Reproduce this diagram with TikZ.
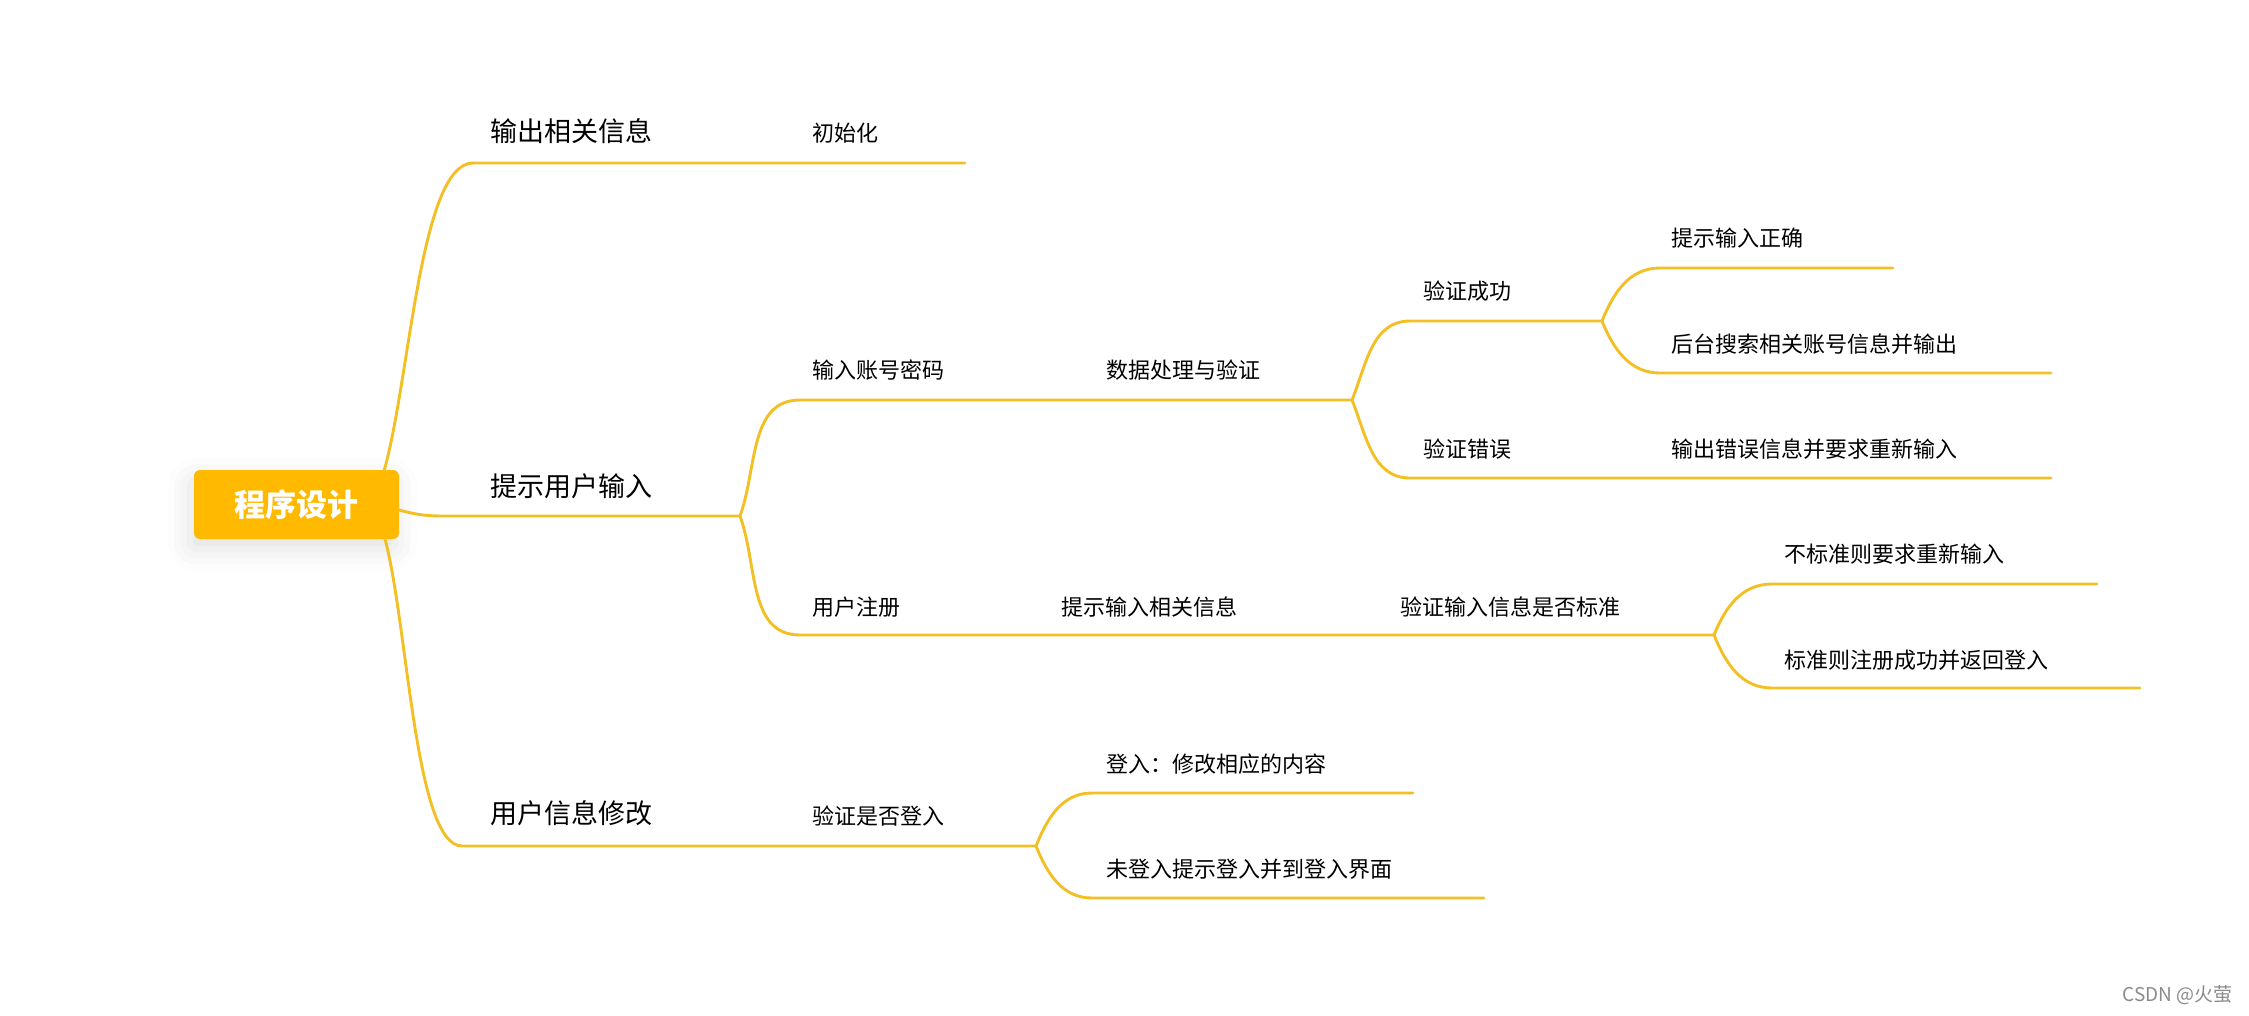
\documentclass[tikz,border=0pt]{standalone}
\usepackage{fontspec}
\setmainfont{Noto Sans CJK SC}
\usetikzlibrary{shadows.blur}
\definecolor{lineyellow}{HTML}{F2C024}
\definecolor{rootyellow}{HTML}{FFBA00}
\definecolor{wmgray}{HTML}{8A8A8A}
\tikzset{
  br/.style={draw=lineyellow, line width=2.9pt, line cap=round},
  lone/.style={anchor=west, font=\fontsize{27}{30}\selectfont, inner sep=0pt},
  ltwo/.style={anchor=west, font=\fontsize{22}{26}\selectfont, inner sep=0pt},
  rootbox/.style={fill=rootyellow, rounded corners=6pt, minimum width=205pt, minimum height=69pt,
     text=white, font=\fontsize{31}{34}\selectfont\bfseries,
     blur shadow={shadow xshift=-4pt, shadow yshift=-10pt, shadow blur radius=22pt, shadow opacity=12}},
}
\begin{document}
\begin{tikzpicture}[x=1pt,y=-1pt]
\useasboundingbox (0,0) rectangle (2249,1015);

% root
\node[rootbox] (root) at (296.5,504.5) {程序设计};

% coordinates
\coordinate (rt) at (384,471);
\coordinate (rr) at (399,510);
\coordinate (rb) at (385,539);

\coordinate (s1) at (473,163);  \coordinate (e1) at (965,163);
\coordinate (s2) at (443,516);  \coordinate (A) at (740,516);
\coordinate (s3) at (462,846);  \coordinate (B) at (1036,846);

\coordinate (sa1) at (800,400); \coordinate (C) at (1352,400);
\coordinate (sa2) at (800,635); \coordinate (D) at (1714,635);

\coordinate (sc1) at (1410,321); \coordinate (E) at (1602,321);
\coordinate (sc2) at (1410,478); \coordinate (ec2) at (2051,478);

\coordinate (se1) at (1660,268); \coordinate (ee1) at (1893,268);
\coordinate (se2) at (1660,373); \coordinate (ee2) at (2051,373);

\coordinate (sd1) at (1772,584); \coordinate (ed1) at (2097,584);
\coordinate (sd2) at (1772,688); \coordinate (ed2) at (2140,688);

\coordinate (sb1) at (1092,793); \coordinate (eb1) at (1413,793);
\coordinate (sb2) at (1092,898); \coordinate (eb2) at (1484,898);

% connectors
\draw[br] (rt) .. controls (410,380) and (420,163) .. (s1) -- (e1);
\draw[br] (rr) to[out=-15,in=180] (s2) -- (A);
\draw[br] (rb) .. controls (408,625) and (415,846) .. (s3) -- (B);

\draw[br] (A) to[out=70,in=180] (sa1) -- (C);
\draw[br] (A) to[out=-70,in=180] (sa2) -- (D);

\draw[br] (C) to[out=68,in=180] (sc1) -- (E);
\draw[br] (C) to[out=-68,in=180] (sc2) -- (ec2);

\draw[br] (E) to[out=68,in=180] (se1) -- (ee1);
\draw[br] (E) to[out=-68,in=180] (se2) -- (ee2);

\draw[br] (D) to[out=68,in=180] (sd1) -- (ed1);
\draw[br] (D) to[out=-68,in=180] (sd2) -- (ed2);

\draw[br] (B) to[out=68,in=180] (sb1) -- (eb1);
\draw[br] (B) to[out=-68,in=180] (sb2) -- (eb2);

% labels
\node[lone] (t1) at (490,131) {输出相关信息};
\node[lone] (t2) at (490,486) {提示用户输入};
\node[lone] (t3) at (490,813) {用户信息修改};

\node[ltwo] (t11) at (812,133) {初始化};
\node[ltwo] (t21) at (812,370) {输入账号密码};
\node[ltwo] (t22) at (812,607) {用户注册};
\node[ltwo] (t31) at (812,816) {验证是否登入};

\node[ltwo] (t211) at (1106,370) {数据处理与验证};
\node[ltwo] (t2111) at (1423,291) {验证成功};
\node[ltwo] (t2112) at (1423,449) {验证错误};
\node[ltwo] (tE1) at (1671,238) {提示输入正确};
\node[ltwo] (tE2) at (1671,344) {后台搜索相关账号信息并输出};
\node[ltwo] (tC2) at (1671,449) {输出错误信息并要求重新输入};

\node[ltwo] (t221) at (1061,607) {提示输入相关信息};
\node[ltwo] (t2211) at (1400,607) {验证输入信息是否标准};
\node[ltwo] (tD1) at (1784,554) {不标准则要求重新输入};
\node[ltwo] (tD2) at (1784,660) {标准则注册成功并返回登入};

\node[ltwo] (tB1) at (1106,764) {登入：修改相应的内容};
\node[ltwo] (tB2) at (1106,869) {未登入提示登入并到登入界面};

\node[anchor=east, inner sep=0pt, text=wmgray, font=\fontsize{19}{22}\selectfont] (wm) at (2233,995) {CSDN @火萤};
\end{tikzpicture}
\end{document}
